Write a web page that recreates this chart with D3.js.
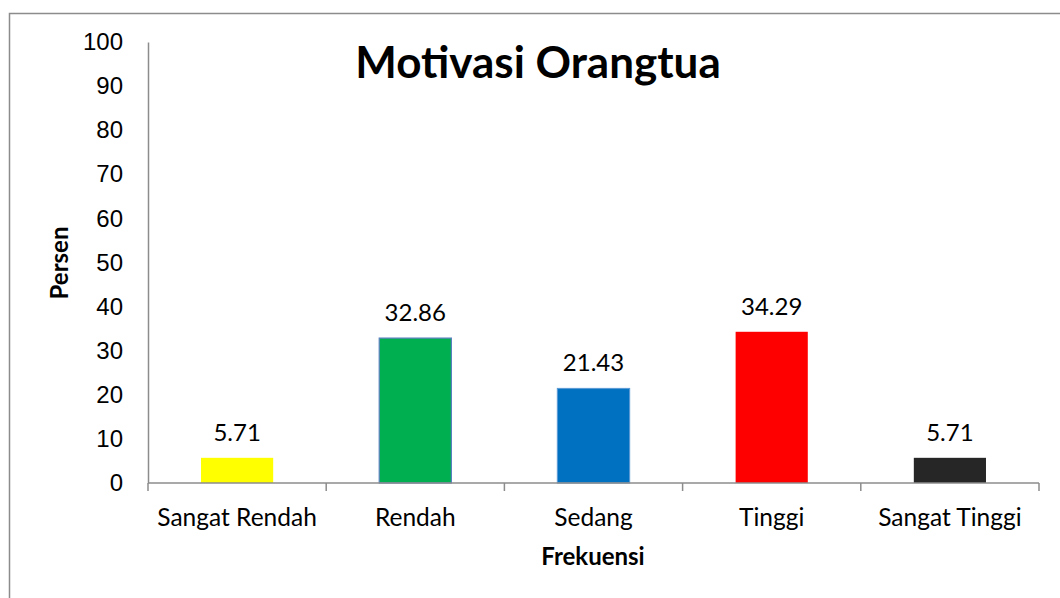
<!DOCTYPE html>
<html>
<head>
<meta charset="utf-8">
<script src="https://cdn.jsdelivr.net/npm/d3@7"></script>
<style>
  body { margin: 0; background: #fff; }
  svg { display: block; font-family: Lato, "Open Sans", sans-serif; }
</style>
</head>
<body>
<div id="chart"></div>
<script>
// Data
const categories = ["Sangat Rendah", "Rendah", "Sedang", "Tinggi", "Sangat Tinggi"];
const values = [5.71, 32.86, 21.43, 34.29, 5.71];
const yTicks = [0, 10, 20, 30, 40, 50, 60, 70, 80, 90, 100];

// Styles
const barColors = ["#FFFF00", "#00B050", "#0070C0", "#FF0000", "#262626"];
const barStrokes = ["none", "#5B7FC0", "#5B9BD5", "none", "none"];

const width = 1060, height = 598;
const margin = { top: 42, right: 21, bottom: 115, left: 148 };

const svg = d3.select("#chart").append("svg")
    .attr("width", width)
    .attr("height", height);

// Chart area border
svg.append("rect")
    .attr("x", 9.5).attr("y", 13.5)
    .attr("width", 1070).attr("height", 600)
    .attr("fill", "none")
    .attr("stroke", "#8c8c8c")
    .attr("stroke-width", 1.5);

const x = d3.scaleBand()
    .domain(categories)
    .range([margin.left, width - margin.right]);

const y = d3.scaleLinear()
    .domain([0, 100])
    .range([height - margin.bottom, margin.top]);

const barW = x.bandwidth() * 0.405;

// Bars
svg.selectAll(".bar")
    .data(values)
    .enter().append("rect")
    .attr("class", "bar")
    .attr("x", (d, i) => x(categories[i]) + (x.bandwidth() - barW) / 2)
    .attr("y", d => y(d))
    .attr("width", barW)
    .attr("height", d => y(0) - y(d))
    .attr("fill", (d, i) => barColors[i])
    .attr("stroke", (d, i) => barStrokes[i])
    .attr("stroke-width", 1.2);

// Value labels
svg.selectAll(".val")
    .data(values)
    .enter().append("text")
    .attr("class", "val")
    .attr("x", (d, i) => x(categories[i]) + x.bandwidth() / 2)
    .attr("y", d => y(d) - 17)
    .attr("text-anchor", "middle")
    .style("font-size", "24px")
    .style("fill", "#000")
    .text(d => d.toFixed(2));

// Y axis
const yAxis = svg.append("g")
    .attr("transform", `translate(${margin.left},0)`)
    .call(d3.axisLeft(y).tickValues(yTicks).tickSize(0).tickPadding(25));
yAxis.select(".domain").attr("stroke", "#8c8c8c").attr("stroke-width", 1.5);
yAxis.selectAll("text").style("font-size", "24px").style("fill", "#000")
    .attr("font-family", null);

// X axis
const xAxisG = svg.append("g")
    .attr("transform", `translate(0,${y(0)})`);
xAxisG.append("line")
    .attr("x1", margin.left).attr("x2", width - margin.right)
    .attr("stroke", "#8c8c8c").attr("stroke-width", 1.5);
const bounds = categories.map(c => x(c)).concat([x.range()[1]]);
xAxisG.selectAll(".xtick")
    .data(bounds)
    .enter().append("line")
    .attr("x1", d => d).attr("x2", d => d)
    .attr("y1", 0).attr("y2", 8)
    .attr("stroke", "#8c8c8c").attr("stroke-width", 1.5);
xAxisG.selectAll(".xlab")
    .data(categories)
    .enter().append("text")
    .attr("x", d => x(d) + x.bandwidth() / 2)
    .attr("y", 43)
    .attr("text-anchor", "middle")
    .style("font-size", "24.5px")
    .text(d => d);

// Titles
svg.append("text")
    .attr("x", 538).attr("y", 78)
    .attr("text-anchor", "middle")
    .style("font-size", "44px").style("font-weight", "bold")
    .text("Motivasi Orangtua");

svg.append("text")
    .attr("x", 593).attr("y", 565)
    .attr("text-anchor", "middle")
    .style("font-size", "24px").style("font-weight", "bold")
    .text("Frekuensi");

svg.append("text")
    .attr("transform", "translate(68,263) rotate(-90)")
    .attr("text-anchor", "middle")
    .style("font-size", "24px").style("font-weight", "bold")
    .text("Persen");
</script>
</body>
</html>
